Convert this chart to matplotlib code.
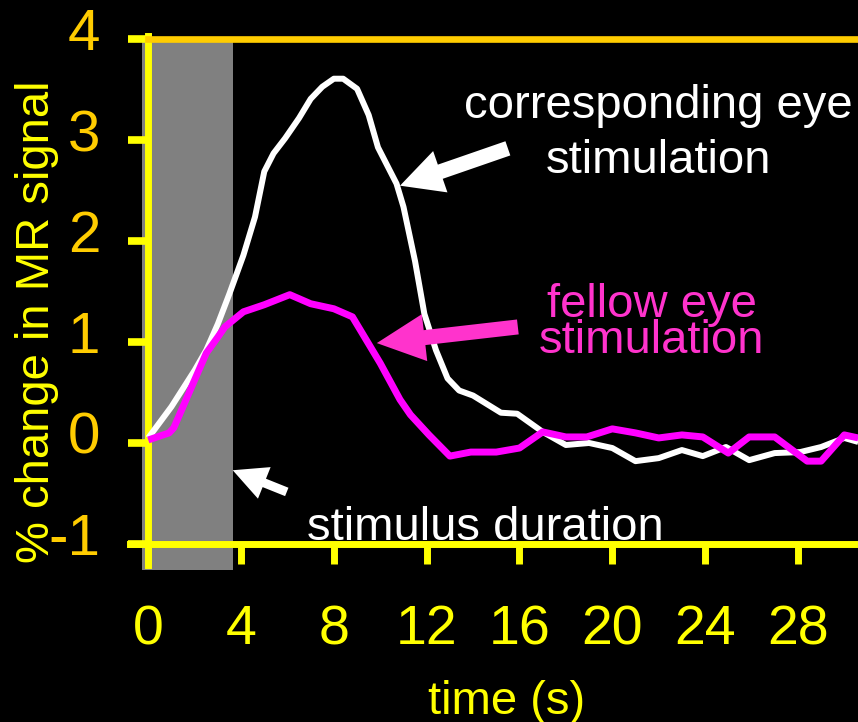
import matplotlib
matplotlib.use("Agg")
import matplotlib.pyplot as plt
from matplotlib.transforms import ScaledTranslation

plt.rcParams['font.family'] = ['Liberation Sans', 'DejaVu Sans']

# Time course of the MR signal (% change) after a brief stimulus
t_corr = [0, 1.0, 2.0, 2.5, 3.0, 3.5, 4.1, 4.6, 5.0, 5.4, 5.9, 6.5, 7.0, 7.5,
          8.0, 8.4, 9.0, 9.5, 9.9, 10.7, 11.0, 11.5, 11.9, 12.4, 12.9, 13.4,
          14.0, 15.2, 15.9, 17.0, 18.0, 19.0, 20.0, 21.0, 22.0, 23.0, 23.9,
          24.9, 25.9, 27.0, 28.1, 29.0, 30.0, 30.6]
y_corr = [0.05, 0.36, 0.72, 0.92, 1.18, 1.48, 1.86, 2.24, 2.69, 2.87, 3.02,
          3.22, 3.41, 3.53, 3.61, 3.61, 3.51, 3.25, 2.93, 2.57, 2.34, 1.80,
          1.28, 0.92, 0.64, 0.52, 0.47, 0.30, 0.29, 0.11, -0.02, 0.0, -0.05,
          -0.18, -0.15, -0.07, -0.13, -0.04, -0.17, -0.10, -0.09, -0.04, 0.05,
          0.01]

t_fellow = [0, 0.9, 1.1, 1.8, 2.5, 3.0, 3.3, 4.1, 5.0, 6.1, 7.0, 8.0, 8.8,
            10.0, 10.85, 11.3, 12.1, 13.0, 13.9, 15.0, 16.0, 17.0, 18.0, 18.9,
            20.0, 21.0, 22.0, 23.0, 23.9, 25.0, 25.9, 27.0, 28.4, 29.0, 30.0,
            30.6]
y_fellow = [0.03, 0.10, 0.15, 0.52, 0.89, 1.05, 1.15, 1.30, 1.37, 1.47, 1.38,
            1.33, 1.25, 0.79, 0.43, 0.28, 0.08, -0.13, -0.09, -0.09, -0.05,
            0.11, 0.06, 0.06, 0.14, 0.10, 0.05, 0.08, 0.06, -0.10, 0.06, 0.06,
            -0.18, -0.18, 0.08, 0.05]

stim_start, stim_end = -0.28, 3.64

x_ticks = [0, 4, 8, 12, 16, 20, 24, 28]
x_ticklabels = ['0', '4', '8', '12', '16', '20', '24', '28']
y_ticks = [-1, 0, 1, 2, 3, 4]
y_ticklabels = ['-1', '0', '1', '2', '3', '4']

YELLOW = '#FFFF00'
GOLD = '#FFCC00'
PINK = '#FF33CC'
MAGENTA = '#FF00FF'

fig = plt.figure(figsize=(8.58, 7.22), dpi=100, facecolor='black')
ax = fig.add_axes([0, 0, 1, 1], facecolor='black')
ax.set_xlim(-6.39, 30.59)
ax.set_ylim(-2.765, 4.39)

# stimulus period
ax.fill_between([stim_start, stim_end], -1.257, 4.0, color='#808080',
                lw=0, zorder=1)

# response curves
ax.plot(t_corr, y_corr, color='white', lw=4.3, solid_joinstyle='round',
        solid_capstyle='butt', zorder=3, clip_on=False)
ax.plot(t_fellow, y_fellow, color=MAGENTA, lw=5.0, solid_joinstyle='round',
        solid_capstyle='butt', zorder=4, clip_on=False)

# axis frame
ax.spines['right'].set_visible(False)
ax.spines['left'].set_position(('data', 0))
ax.spines['left'].set_bounds(-1.21, 4.03)
ax.spines['bottom'].set_position(('data', -1))
ax.spines['bottom'].set_bounds(-0.79, 30.6)
ax.spines['top'].set_position(('data', 4))
ax.spines['top'].set_bounds(0, 30.6)
for side in ('left', 'bottom'):
    ax.spines[side].set_color(YELLOW)
    ax.spines[side].set_linewidth(5)
ax.spines['top'].set_color(GOLD)
ax.spines['top'].set_linewidth(4.8)
for sp in ax.spines.values():
    sp.set_zorder(2.5)

ax.set_xticks(x_ticks)
ax.set_xticklabels(x_ticklabels)
ax.set_yticks(y_ticks)
ax.set_yticklabels(y_ticklabels)
ax.tick_params(axis='x', direction='out', length=14.4, width=5, color=YELLOW,
               labelcolor=YELLOW, labelsize=40, pad=29)
ax.tick_params(axis='y', direction='out', length=14.4, width=5.5,
               color=YELLOW, labelcolor=GOLD, labelsize=42, pad=20)
for lab in ax.get_yticklabels():
    lab.set_transform(lab.get_transform() +
                      ScaledTranslation(0, 0.10, fig.dpi_scale_trans))

ax.set_ylabel('% change in MR signal', color=YELLOW, fontsize=34,
              va='center')
ax.yaxis.set_label_coords(37.5 / 858, 1 - 322 / 722, transform=fig.transFigure)
ax.set_xlabel('time (s)', color=YELLOW, fontsize=34, va='baseline')
ax.xaxis.set_label_coords(507 / 858, 1 - 714 / 722, transform=fig.transFigure)

# annotations
ax.text(21.97, 3.22, 'corresponding eye', color='white', fontsize=34,
        ha='center', va='baseline', zorder=5)
ax.text(21.97, 2.676, 'stimulation', color='white', fontsize=34,
        ha='center', va='baseline', zorder=5)
ax.text(21.71, 1.249, 'fellow eye', color=PINK, fontsize=34,
        ha='center', va='baseline', zorder=5)
ax.text(21.71, 0.892, 'stimulation', color=PINK, fontsize=34,
        ha='center', va='baseline', zorder=5)
ax.text(14.51, -0.961, 'stimulus duration', color='white', fontsize=34,
        ha='center', va='baseline', zorder=5)

def arrow(tip, tail, color, hl, hw, tw):
    ax.annotate('', xy=tip, xytext=tail,
                arrowprops=dict(arrowstyle=f'simple,head_length={hl},'
                                f'head_width={hw},tail_width={tw}',
                                color=color, lw=0, shrinkA=0, shrinkB=0,
                                mutation_scale=1),
                zorder=6)

arrow((10.85, 2.55), (15.5, 2.92), 'white', 30.7, 31.5, 10.8)
arrow((9.85, 0.99), (15.93, 1.15), PINK, 34.6, 34, 10.8)
arrow((3.64, -0.27), (5.97, -0.485), 'white', 24.5, 24.5, 6.5)

fig.savefig('out.png', dpi=100, facecolor='black')
